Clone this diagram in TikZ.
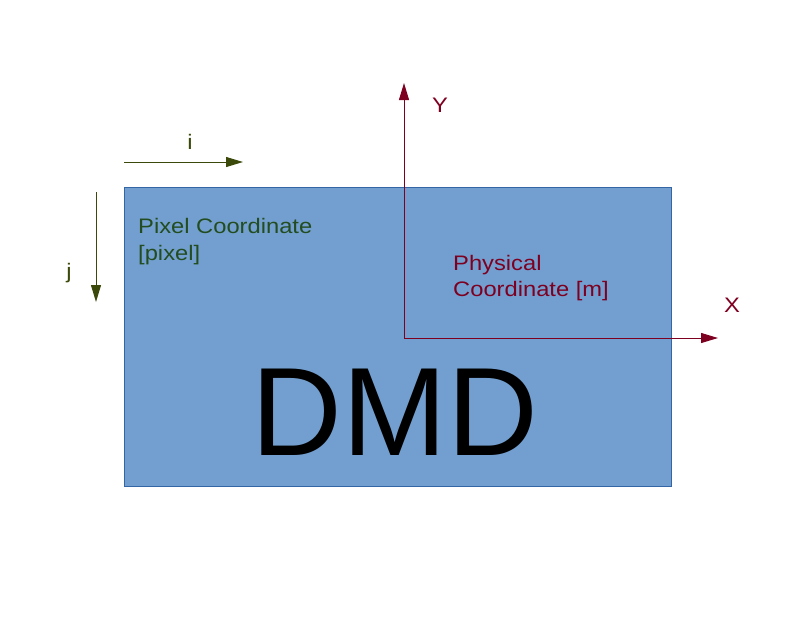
\documentclass[tikz,border=0pt]{standalone}
\usepackage{fontspec}
\setmainfont{Liberation Sans}
\newfontfamily\widesans[FakeStretch=1.13]{Liberation Sans}
\usetikzlibrary{arrows.meta}
\definecolor{pixarrow}{HTML}{3B4A0A}
\definecolor{pixtext}{HTML}{234D20}
\definecolor{phys}{HTML}{7E0021}
\definecolor{dmdfill}{HTML}{729FCF}
\definecolor{dmdline}{HTML}{3465A4}
\tikzset{
  pixax/.style={draw=pixarrow, line width=1pt, -{Triangle[length=17pt,width=10pt]}},
  physax/.style={draw=phys, line width=1pt, -{Triangle[length=17pt,width=10pt]}},
  lbl/.style={inner sep=0pt, font=\widesans\fontsize{21}{25}\selectfont},
}
\begin{document}
\begin{tikzpicture}[x=1pt,y=-1pt]
\useasboundingbox (0,0) rectangle (794,643);
\node[draw=dmdline, fill=dmdfill, line width=0.8pt, minimum width=547pt, minimum height=299pt, inner sep=0pt, anchor=north west] (dmd) at (124,187) {};
\node[inner sep=0pt, anchor=base, font=\fontsize{125.7}{126}\selectfont] (dmdtext) at (395,455) {DMD};
\node[lbl, text=pixtext, anchor=base west] (pixtxta) at (138,233.3) {Pixel Coordinate};
\node[lbl, text=pixtext, anchor=base west] (pixtxtb) at (138,260) {[pixel]};
\node[lbl, text=phys, anchor=base west] (phystxta) at (453,270) {Physical};
\node[lbl, text=phys, anchor=base west] (phystxtb) at (453,296.7) {Coordinate [m]};
\coordinate (iS) at (124,162);
\coordinate (iE) at (243,162);
\coordinate (jS) at (96,192);
\coordinate (jE) at (96,302);
\coordinate (O) at (404,338);
\coordinate (yE) at (404,83);
\coordinate (xE) at (718,338);
\draw[pixax] (iS) -- (iE);
\draw[pixax] (jS) -- (jE);
\draw[physax] (O) -- (yE);
\draw[physax] (O) -- (xE);
\node[lbl, text=pixarrow] (ilbl) at (190,142) {i};
\node[lbl, text=pixarrow] (jlbl) at (69,273) {j};
\node[lbl, text=phys] (ylbl) at (440,105) {Y};
\node[lbl, text=phys] (xlbl) at (732,305) {X};
\end{tikzpicture}
\end{document}
